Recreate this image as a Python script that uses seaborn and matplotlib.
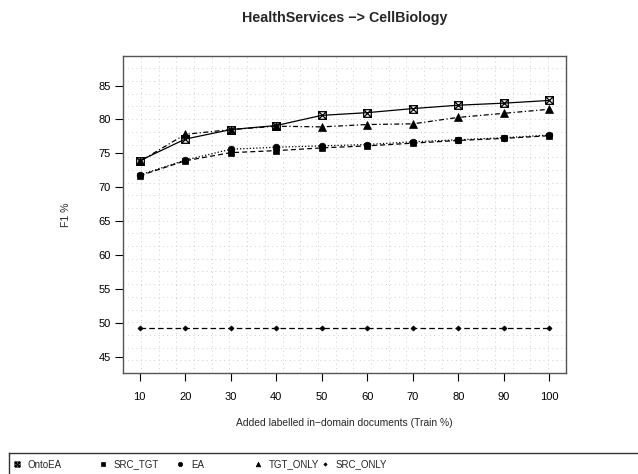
import numpy as np
import pandas as pd
import matplotlib
matplotlib.use("Agg")
import matplotlib.pyplot as plt
from matplotlib.path import Path
from matplotlib.lines import Line2D
import seaborn as sns

# Training share of added in-domain documents (%)
train_pct = [10, 20, 30, 40, 50, 60, 70, 80, 90, 100]

# F1 scores per method
onto_ea = [73.9, 77.1, 78.5, 79.1, 80.6, 81.0, 81.6, 82.1, 82.4, 82.8]
src_tgt = [71.7, 73.9, 75.1, 75.4, 75.8, 76.1, 76.5, 76.9, 77.2, 77.6]
ea = [71.8, 74.0, 75.6, 75.9, 76.1, 76.3, 76.7, 77.0, 77.3, 77.7]
tgt_only = [73.8, 77.8, 78.5, 79.0, 78.9, 79.25, 79.35, 80.3, 80.9, 81.5]
src_only = [49.2, 49.2, 49.2, 49.2, 49.2, 49.2, 49.2, 49.2, 49.2, 49.2]

series_names = ["OntoEA", "SRC_TGT", "EA", "TGT_ONLY", "SRC_ONLY"]
y_ticks = [45, 50, 55, 60, 65, 70, 75, 80, 85]

title = "HealthServices \u2212> CellBiology"
x_label = "Added labelled in\u2212domain documents (Train %)"
y_label = "F1 %"

sns.set_style("white")
plt.rcParams["font.family"] = ["Liberation Sans", "DejaVu Sans"]

# square with an X inside
box_x = Path(
    [(-1, -1), (1, -1), (1, 1), (-1, 1), (-1, -1), (-1, -1), (1, 1), (-1, 1), (1, -1)],
    [Path.MOVETO, Path.LINETO, Path.LINETO, Path.LINETO, Path.LINETO,
     Path.MOVETO, Path.LINETO, Path.MOVETO, Path.LINETO],
)

styles = {
    "OntoEA": dict(marker=box_x, linestyle="-", markersize=5.5, mfc="none", mew=0.9),
    "SRC_TGT": dict(marker="s", linestyle=(0, (4, 2.5)), markersize=4.6),
    "EA": dict(marker="o", linestyle=(0, (1, 1.6)), markersize=4.8),
    "TGT_ONLY": dict(marker="^", linestyle=(0, (1, 2, 4, 2)), markersize=5.2),
    "SRC_ONLY": dict(marker="D", linestyle=(0, (4.5, 2.5)), markersize=2.6),
}
values = {"OntoEA": onto_ea, "SRC_TGT": src_tgt, "EA": ea,
          "TGT_ONLY": tgt_only, "SRC_ONLY": src_only}

df = pd.DataFrame(
    [(x, name, v) for name in series_names for x, v in zip(train_pct, values[name])],
    columns=["train", "method", "f1"],
)

fig = plt.figure(figsize=(6.38, 4.74), dpi=100)
ax = fig.add_axes([123.3 / 638, 101 / 474, 442.4 / 638, 317.3 / 474])

xlim = (6.4, 103.6)
ylim = (42.6, 89.4)
ax.set_xlim(*xlim)
ax.set_ylim(*ylim)

# light dotted grid dividing the panel into 25 x 25 cells
for gx in np.linspace(xlim[0], xlim[1], 26)[1:-1]:
    ax.axvline(gx, color="#cfcfcf", lw=0.7, ls=(0, (1, 3.5)), zorder=0)
for gy in np.linspace(ylim[0], ylim[1], 26)[1:-1]:
    ax.axhline(gy, color="#cfcfcf", lw=0.7, ls=(0, (1, 3.5)), zorder=0)

for name in series_names:
    st = styles[name]
    sub = df[df["method"] == name]
    sns.lineplot(data=sub, x="train", y="f1", ax=ax, color="black", lw=0.9,
                 marker=st["marker"], linestyle=st["linestyle"],
                 markersize=st["markersize"],
                 markerfacecolor=st.get("mfc", "black"),
                 markeredgecolor="black", markeredgewidth=st.get("mew", 0.5),
                 legend=False, zorder=3)

ax.set_xticks(train_pct)
ax.set_yticks(y_ticks)
ax.tick_params(axis="both", direction="out", length=6, width=0.8,
               colors="black", labelsize=8, pad=8, bottom=True, left=True)
ax.tick_params(axis="y", pad=3)
for side in ["top", "right", "left", "bottom"]:
    ax.spines[side].set_visible(True)
    ax.spines[side].set_color("#555555")
    ax.spines[side].set_linewidth(1.0)

ax.set_xlabel(x_label, fontsize=7.4, labelpad=11)
ax.set_ylabel(y_label, fontsize=7.6, labelpad=20)
fig.text(344.5 / 638, 1 - 18 / 474, title, ha="center", va="center",
         fontsize=10.3, fontweight="bold")

# horizontal legend strip along the bottom edge
lax = fig.add_axes([9 / 638, 0.0, 1.0, (474 - 453) / 474])
lax.set_xlim(0, 1)
lax.set_ylim(0, 1)
lax.set_xticks([])
lax.set_yticks([])
for side in ["bottom", "right"]:
    lax.spines[side].set_visible(False)
for side in ["top", "left"]:
    lax.spines[side].set_color("#333333")
    lax.spines[side].set_linewidth(1.0)
lax.patch.set_facecolor("white")
label_y = 0.5
entry_x = [8 / 638, 94 / 638, 171 / 638, 249 / 638, 316 / 638]
for name, ex in zip(series_names, entry_x):
    st = styles[name]
    lax.add_line(Line2D([ex], [label_y], marker=st["marker"], color="black",
                        markersize=st["markersize"] * 0.65,
                        markerfacecolor=st.get("mfc", "black"),
                        markeredgecolor="black", markeredgewidth=st.get("mew", 0.5),
                        linestyle="none", clip_on=False))
    lax.text(ex + 11 / 638, label_y, name, fontsize=7, va="center_baseline",
             ha="left")

fig.savefig("out.png", dpi=100)
